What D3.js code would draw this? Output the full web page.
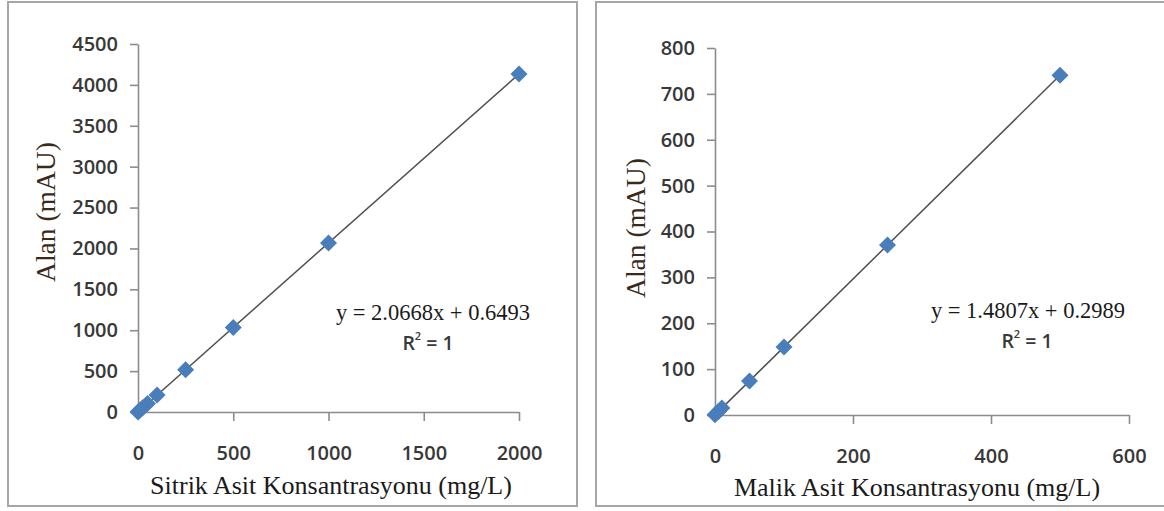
<!DOCTYPE html>
<html>
<head>
<meta charset="utf-8">
<script src="https://cdn.jsdelivr.net/npm/d3@7"></script>
<style>
  html, body { margin: 0; padding: 0; background: #fff; }
  svg { display: block; }
</style>
</head>
<body>
<svg id="chart" width="1164" height="511"></svg>
<script>
// Citric acid calibration (left panel)
const sitrikConc = [0, 10, 25, 50, 100, 250, 500, 1000, 2000];
const sitrikArea = [0.6, 21.3, 52.3, 104.0, 207.3, 517.3, 1034.0, 2067.4, 4134.2];
const sitrikXTicks = [0, 500, 1000, 1500, 2000];
const sitrikYTicks = [0, 500, 1000, 1500, 2000, 2500, 3000, 3500, 4000, 4500];
const sitrikFit = { slope: 2.0668, intercept: 0.6493 };

// Malic acid calibration (right panel)
const malikConc = [0, 5, 10, 50, 100, 250, 500];
const malikArea = [0.3, 7.7, 15.1, 74.3, 148.4, 370.5, 740.6];
const malikXTicks = [0, 200, 400, 600];
const malikYTicks = [0, 100, 200, 300, 400, 500, 600, 700, 800];
const malikFit = { slope: 1.4807, intercept: 0.2989 };

const svg = d3.select("#chart");

const AXIS = "#8c8c8c";
const LABEL = "#383838";
const MARKER = "#4a7ebb";
const TREND = "#505050";
const SANS = "'Open Sans', 'Liberation Sans', Arial, sans-serif";
const SERIF = "'Liberation Serif', 'Times New Roman', serif";

function drawPanel(p) {
  // chart-area frame
  svg.append("rect")
    .attr("x", p.frame[0]).attr("y", p.frame[1])
    .attr("width", p.frame[2]).attr("height", p.frame[3])
    .attr("fill", "#fff").attr("stroke", "#a6a6a6").attr("stroke-width", 2);

  const x = d3.scaleLinear().domain(p.xDomain).range(p.xRange);
  const y = d3.scaleLinear().domain(p.yDomain).range(p.yRange);
  const g = svg.append("g");
  const fmt = d3.format("d");

  // y axis
  const yAxis = g.append("g")
    .attr("transform", `translate(${p.xRange[0]},0)`)
    .call(d3.axisLeft(y).tickValues(p.yTicks).tickFormat(fmt)
      .tickSize(8).tickPadding(12).tickSizeOuter(0));
  // x axis
  const xAxis = g.append("g")
    .attr("transform", `translate(0,${p.yRange[0]})`)
    .call(d3.axisBottom(x).tickValues(p.xTicks).tickFormat(fmt)
      .tickSize(9).tickPadding(25).tickSizeOuter(0));

  [xAxis, yAxis].forEach(a => {
    a.select(".domain").attr("stroke", AXIS).attr("stroke-width", 1.6);
    a.selectAll(".tick line").attr("stroke", AXIS).attr("stroke-width", 1.6);
    a.selectAll(".tick text")
      .attr("fill", LABEL)
      .style("font-family", SANS)
      .style("font-weight", "600")
      .style("font-size", "20px");
  });
  // the tick at the origin belongs to the y axis only
  xAxis.selectAll(".tick line").filter(d => d === p.xDomain[0]).remove();

  // linear trend line from the fitted equation
  const xs = [p.xDomain[0], d3.max(p.conc)];
  g.append("line")
    .attr("x1", x(xs[0])).attr("y1", y(p.fit.slope * xs[0] + p.fit.intercept))
    .attr("x2", x(xs[1])).attr("y2", y(p.fit.slope * xs[1] + p.fit.intercept))
    .attr("stroke", TREND).attr("stroke-width", 1.5);

  // diamond markers
  const diamond = "M0,-8.5L8.5,0L0,8.5L-8.5,0Z";
  g.selectAll("path.pt").data(p.conc.map((c, i) => [c, p.area[i]]))
    .join("path").attr("class", "pt")
    .attr("d", diamond)
    .attr("transform", d => `translate(${x(d[0])},${y(d[1])})`)
    .attr("fill", MARKER);

  // axis titles
  svg.append("text")
    .attr("x", p.xTitlePos[0]).attr("y", p.xTitlePos[1])
    .attr("text-anchor", "middle").attr("dominant-baseline", "central")
    .attr("fill", "#1a1a1a")
    .style("font-family", SERIF)
    .style("font-size", "26px")
    .text(p.xTitle);
  svg.append("text")
    .attr("transform", `translate(${p.yTitlePos[0]},${p.yTitlePos[1]}) rotate(-90)`)
    .attr("text-anchor", "middle").attr("dominant-baseline", "central")
    .attr("fill", "#3a2a1a")
    .style("font-family", SERIF)
    .style("font-size", "27.5px")
    .text("Alan (mAU)");

  // equation and R²
  svg.append("text")
    .attr("x", p.eqPos[0]).attr("y", p.eqPos[1])
    .attr("text-anchor", "middle").attr("dominant-baseline", "central")
    .attr("fill", "#1a1a1a")
    .style("font-family", SERIF)
    .style("font-size", "22.5px")
    .text(`y = ${p.fit.slope.toFixed(4)}x + ${p.fit.intercept.toFixed(4)}`);
  const r2 = svg.append("text")
    .attr("x", p.r2Pos[0]).attr("y", p.r2Pos[1])
    .attr("text-anchor", "middle").attr("dominant-baseline", "central")
    .attr("fill", LABEL)
    .style("font-family", SANS)
    .style("font-weight", "600")
    .style("font-size", "19.5px");
  r2.append("tspan").text("R");
  r2.append("tspan").attr("dy", -7).style("font-size", "11px").text("2");
  r2.append("tspan").attr("dy", 7).text(" = 1");
}

drawPanel({
  frame: [8, 2, 569, 504],
  xDomain: [0, 2000], xRange: [138, 519],
  yDomain: [0, 4500], yRange: [412, 44],
  xTicks: sitrikXTicks, yTicks: sitrikYTicks,
  conc: sitrikConc, area: sitrikArea, fit: sitrikFit,
  xTitle: "Sitrik Asit Konsantrasyonu (mg/L)",
  xTitlePos: [331, 485], yTitlePos: [45, 212],
  eqPos: [433, 312], r2Pos: [428, 342]
});

drawPanel({
  frame: [596, 2, 580, 504],
  xDomain: [0, 600], xRange: [715, 1129],
  yDomain: [0, 800], yRange: [415, 48],
  xTicks: malikXTicks, yTicks: malikYTicks,
  conc: malikConc, area: malikArea, fit: malikFit,
  xTitle: "Malik Asit Konsantrasyonu (mg/L)",
  xTitlePos: [917, 487], yTitlePos: [635, 228],
  eqPos: [1028, 310], r2Pos: [1027, 340]
});
</script>
</body>
</html>
